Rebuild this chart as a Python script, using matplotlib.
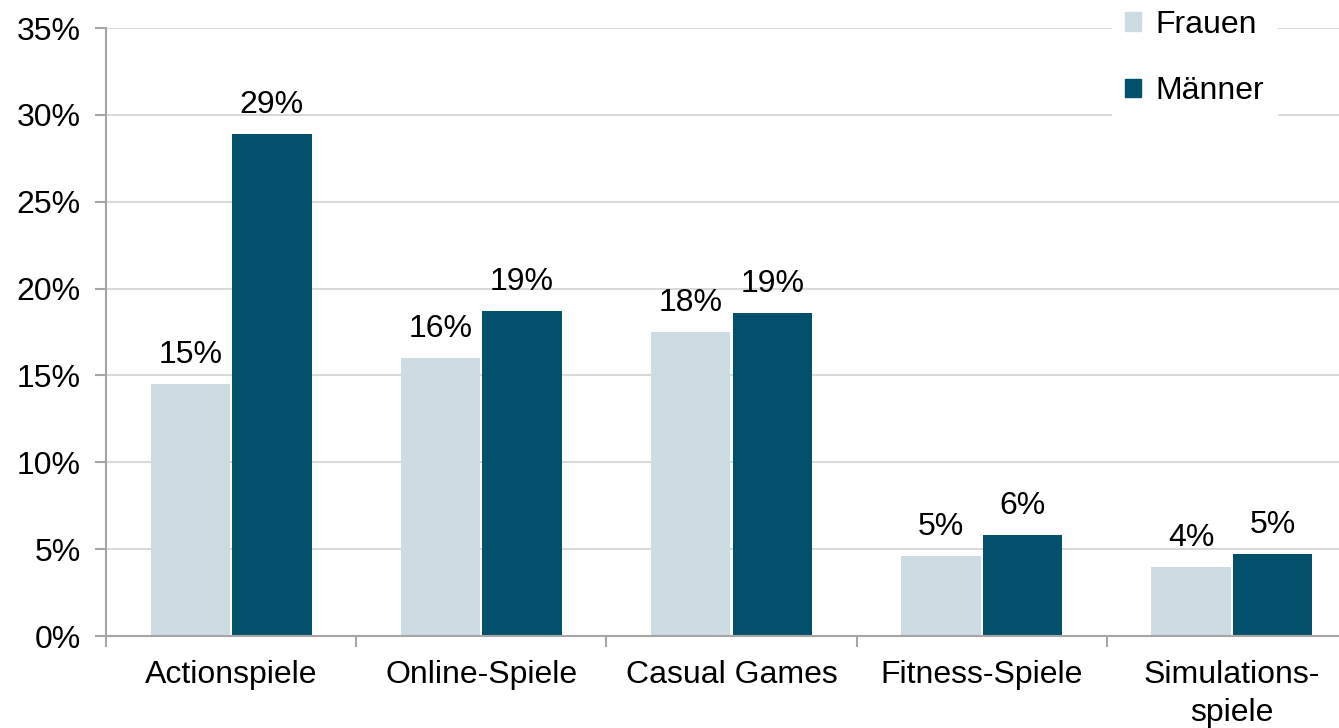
import matplotlib
matplotlib.use("Agg")
import matplotlib.pyplot as plt
from matplotlib.patches import Patch
import numpy as np

categories = ["Actionspiele", "Online-Spiele", "Casual Games", "Fitness-Spiele", "Simulations-\nspiele"]
frauen = [14.5, 16.0, 17.5, 4.6, 4.0]
maenner = [28.9, 18.7, 18.6, 5.8, 4.7]
labels_frauen = ["15%", "16%", "18%", "5%", "4%"]
labels_maenner = ["29%", "19%", "19%", "6%", "5%"]
yticks = [0, 5, 10, 15, 20, 25, 30, 35]

plt.rcParams['font.family'] = ['Liberation Sans', 'DejaVu Sans']

W, H = 1339, 728
FS = 23
fig = plt.figure(figsize=(W/100, H/100), dpi=100)
ax = fig.add_axes([106/W, (H-636)/H, (1357-106)/W, (636-28)/H])

c_f = "#CDDBE2"
c_m = "#02506B"
x = np.arange(len(categories))
bw = 0.318
gap = 0.004
bf = ax.bar(x - bw/2 - gap, frauen, bw, color=c_f, zorder=2)
bm = ax.bar(x + bw/2 + gap, maenner, bw, color=c_m, zorder=2)

for rect, lab in zip(bf, labels_frauen):
    ax.annotate(lab, (rect.get_x() + rect.get_width()/2, rect.get_height()),
                xytext=(0, 10), textcoords="offset points", ha="center", va="bottom", fontsize=FS)
for rect, lab in zip(bm, labels_maenner):
    ax.annotate(lab, (rect.get_x() + rect.get_width()/2, rect.get_height()),
                xytext=(0, 10), textcoords="offset points", ha="center", va="bottom", fontsize=FS)

ax.set_xlim(-0.5, len(categories) - 0.5)
ax.set_ylim(0, 35)
ax.set_yticks(yticks)
ax.set_yticklabels([f"{v}%" for v in yticks], fontsize=FS)
ax.yaxis.grid(True, color="#D9D9D9", linewidth=1.5, zorder=0)
ax.set_axisbelow(True)

ax.set_xticks(x)
ax.set_xticklabels(categories, fontsize=FS, linespacing=1.35)
ax.set_xticks(np.arange(-0.5, len(categories), 1), minor=True)
ax.tick_params(axis="x", which="major", length=0, pad=17)
ax.tick_params(axis="x", which="minor", length=8, width=1.5, color="#A6A6A6", direction="out")
ax.tick_params(axis="y", length=8, width=1.5, color="#A6A6A6", direction="out", pad=10)

for s in ["top", "right"]:
    ax.spines[s].set_visible(False)
for s in ["left", "bottom"]:
    ax.spines[s].set_color("#A6A6A6")
    ax.spines[s].set_linewidth(1.5)

handles = [Patch(color=c_f, label="Frauen"), Patch(color=c_m, label="Männer")]
leg = fig.legend(handles=handles, loc="upper left", bbox_to_anchor=(1096/W, 1 + 19/H),
                 frameon=True, fontsize=FS, handlelength=0.5, handleheight=0.5,
                 handletextpad=0.45, labelspacing=1.15, borderpad=0.4, fancybox=False)
leg.get_frame().set_edgecolor("white")
leg.get_frame().set_facecolor("white")
leg.get_frame().set_alpha(1)

fig.savefig("out.png", dpi=100)
